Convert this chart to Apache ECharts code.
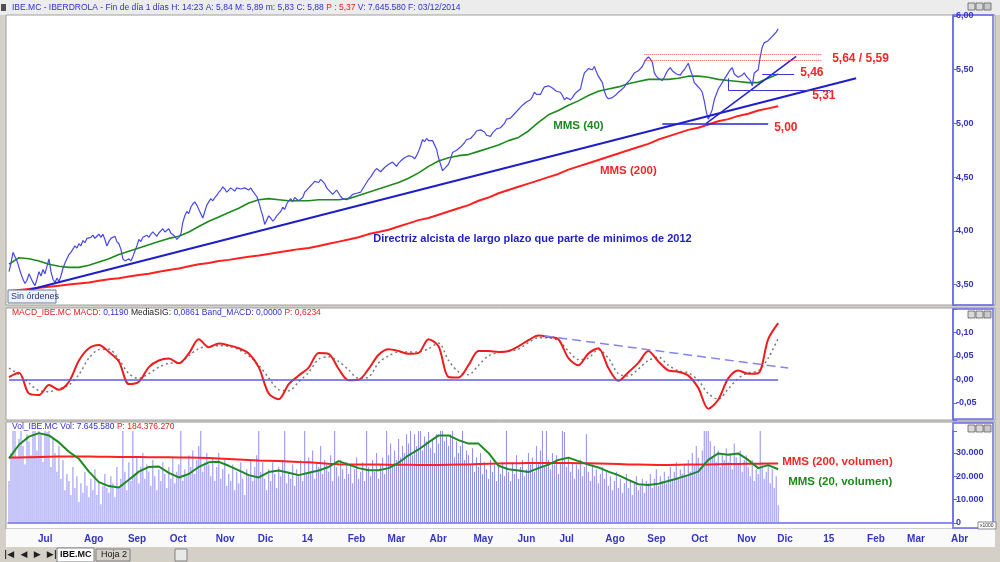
<!DOCTYPE html>
<html>
<head>
<meta charset="utf-8">
<title>IBE.MC - IBERDROLA</title>
<script src="https://cdn.jsdelivr.net/npm/echarts@6/dist/echarts.min.js"></script>
<style>
html, body { margin: 0; padding: 0; background: #d4d0c8; }
#chart { width: 1000px; height: 562px; }
</style>
</head>
<body>
<div id="chart"></div>
<script>
var FONT = '"Liberation Sans", Arial, sans-serif';
var STEP = 5; // sampled series: one value every 5 sessions

// trading sessions 12/06/2013 .. 03/04/2015 (data ends 03/12/2014)
var dates = [];
(function () {
    var d = new Date(Date.UTC(2013, 5, 12));
    var end = Date.UTC(2015, 3, 3);
    while (d.getTime() <= end) {
        var wd = d.getUTCDay();
        if (wd !== 0 && wd !== 6) dates.push(d.toISOString().slice(0, 10));
        d.setUTCDate(d.getUTCDate() + 1);
    }
})();
var monthNames = ['', 'Feb', 'Mar', 'Abr', 'May', 'Jun', 'Jul', 'Ago', 'Sep', 'Oct', 'Nov', 'Dic'];

// daily close
var close = [
    3.62, 3.70, 3.80, 3.76, 3.72, 3.66, 3.60, 3.55, 3.51, 3.54,
    3.60, 3.56, 3.52, 3.49, 3.55, 3.62, 3.58, 3.64, 3.60, 3.67,
    3.74, 3.62, 3.55, 3.52, 3.56, 3.53, 3.58, 3.65, 3.70, 3.74,
    3.78, 3.80, 3.83, 3.86, 3.84, 3.88, 3.86, 3.91, 3.89, 3.93,
    3.92, 3.94, 3.96, 3.93, 3.95, 3.97, 3.94, 3.97, 3.92, 3.86,
    3.90, 3.93, 3.94, 3.95, 3.90, 3.88, 3.83, 3.74, 3.72, 3.71,
    3.74, 3.72, 3.76, 3.81, 3.86, 3.92, 3.90, 3.94, 3.93, 3.96,
    3.94, 3.97, 3.99, 3.97, 3.95, 3.98, 4.00, 4.02, 3.99, 4.00,
    4.02, 3.98, 3.99, 3.95, 3.92, 3.94, 3.97, 4.08, 4.14, 4.18,
    4.16, 4.22, 4.25, 4.27, 4.24, 4.20, 4.16, 4.12, 4.18, 4.24,
    4.27, 4.30, 4.28, 4.31, 4.33, 4.36, 4.38, 4.41, 4.39, 4.36,
    4.38, 4.40, 4.39, 4.37, 4.40, 4.41, 4.39, 4.38, 4.40, 4.39,
    4.38, 4.40, 4.37, 4.36, 4.32, 4.27, 4.20, 4.14, 4.06, 4.10,
    4.14, 4.12, 4.09, 4.11, 4.14, 4.16, 4.18, 4.22, 4.20, 4.25,
    4.28, 4.30, 4.27, 4.31, 4.30, 4.28, 4.27, 4.31, 4.36, 4.38,
    4.40, 4.42, 4.44, 4.46, 4.47, 4.45, 4.48, 4.46, 4.44, 4.40,
    4.38, 4.36, 4.34, 4.36, 4.38, 4.37, 4.32, 4.30, 4.31, 4.29,
    4.30, 4.32, 4.34, 4.33, 4.35, 4.34, 4.36, 4.39, 4.42, 4.45,
    4.48, 4.50, 4.53, 4.56, 4.58, 4.57, 4.55, 4.56, 4.59, 4.60,
    4.62, 4.61, 4.64, 4.62, 4.60, 4.63, 4.65, 4.66, 4.68, 4.69,
    4.70, 4.71, 4.69, 4.67, 4.70, 4.74, 4.79, 4.85, 4.83, 4.86,
    4.84, 4.85, 4.84, 4.83, 4.76, 4.68, 4.62, 4.56, 4.58, 4.60,
    4.62, 4.67, 4.73, 4.72, 4.75, 4.76, 4.78, 4.79, 4.82, 4.85,
    4.84, 4.86, 4.87, 4.90, 4.93, 4.92, 4.94, 4.95, 4.92, 4.89,
    4.90, 4.88, 4.91, 4.93, 4.95, 4.94, 4.96, 4.97, 5.00, 5.04,
    5.03, 5.05, 5.06, 5.09, 5.11, 5.13, 5.15, 5.17, 5.18, 5.20,
    5.21, 5.22, 5.25, 5.29, 5.27, 5.26, 5.27, 5.31, 5.34, 5.33,
    5.35, 5.35, 5.33, 5.32, 5.30, 5.31, 5.29, 5.26, 5.22, 5.24,
    5.23, 5.22, 5.24, 5.27, 5.29, 5.30, 5.32, 5.40, 5.47, 5.49,
    5.51, 5.52, 5.50, 5.53, 5.48, 5.44, 5.41, 5.38, 5.30, 5.25,
    5.23, 5.22, 5.24, 5.25, 5.27, 5.29, 5.30, 5.32, 5.34, 5.37,
    5.39, 5.41, 5.44, 5.47, 5.46, 5.49, 5.50, 5.53, 5.57, 5.60,
    5.62, 5.60, 5.57, 5.47, 5.44, 5.42, 5.41, 5.40, 5.43, 5.47,
    5.50, 5.52, 5.49, 5.48, 5.46, 5.45, 5.45, 5.48, 5.50, 5.53,
    5.56, 5.50, 5.45, 5.38, 5.36, 5.35, 5.32, 5.29, 5.21, 5.11,
    5.04, 5.08, 5.13, 5.22, 5.27, 5.32, 5.35, 5.38, 5.41, 5.44,
    5.47, 5.50, 5.52, 5.46, 5.45, 5.43, 5.43, 5.45, 5.47, 5.44,
    5.42, 5.40, 5.35, 5.47, 5.48, 5.50, 5.62, 5.71, 5.75, 5.74,
    5.77, 5.78, 5.81, 5.83, 5.85, 5.88
];

// daily volume, in thousands (axis shows x1000)
var volK = [
    18, 30, 40, 42, 28, 36, 41, 33, 25, 38,
    35, 29, 44, 40, 31, 45, 38, 26, 42, 39,
    43, 24, 36, 30, 22, 33, 19, 27, 14, 21,
    18, 12, 24, 15, 20, 9, 17, 13, 22, 16,
    11, 19, 14, 23, 12, 18, 8, 16, 21, 15,
    13, 20, 17, 11, 24, 15, 19, 40, 22, 14,
    26, 18, 40, 21, 28, 17, 24, 30, 19, 25,
    22, 16, 27, 20, 14, 23, 18, 26, 21, 15,
    24, 19, 28, 17, 22, 25, 40, 18, 23, 20,
    29, 24, 31, 21, 27, 33, 41, 22, 26, 30,
    25, 20, 28, 18, 24, 30, 19, 23, 27, 16,
    21, 18, 25, 14, 22, 17, 26, 19, 12, 23,
    20, 27, 18, 24, 29, 40, 22, 26, 19, 14,
    23, 18, 26, 21, 15, 24, 20, 27, 40, 17,
    22, 19, 25, 16, 23, 20, 27, 18, 40, 21,
    28, 22, 31, 19, 26, 24, 33, 21, 27, 25,
    22, 29, 18, 40, 24, 20, 27, 23, 19, 26,
    21, 25, 17, 23, 28, 19, 22, 26, 18, 40,
    24, 20, 27, 22, 30, 19, 25, 28, 21, 40,
    29, 34, 25, 31, 27, 36, 28, 33, 30, 38,
    34, 41, 29, 38, 33, 40, 42, 31, 37, 35,
    39, 32, 36, 30, 38, 34, 41, 40, 35, 37,
    33, 38, 41, 28, 35, 30, 33, 40, 27, 31,
    29, 25, 32, 22, 28, 24, 30, 21, 26, 23,
    19, 27, 22, 25, 18, 24, 21, 26, 20, 40,
    22, 18, 26, 21, 29, 19, 24, 27, 20, 23,
    30, 25, 28, 22, 33, 26, 31, 41, 24, 40,
    27, 23, 30, 25, 29, 21, 26, 40, 39, 24,
    28, 22, 26, 19, 25, 23, 27, 20, 24, 38,
    22, 18, 25, 20, 23, 17, 21, 24, 19, 22,
    16, 20, 14, 18, 22, 15, 19, 13, 17, 21,
    15, 18, 12, 17, 20, 14, 16, 19, 13, 18,
    17, 21, 15, 19, 23, 16, 20, 18, 22, 17,
    20, 24, 18, 22, 26, 19, 23, 21, 25, 20,
    27, 22, 30, 25, 33, 28, 24, 31, 41, 40,
    42, 35, 28, 33, 26, 31, 24, 29, 27, 32,
    26, 30, 23, 34, 28, 25, 31, 22, 27, 29,
    24, 20, 27, 18, 23, 21, 40, 26, 19, 22,
    25, 17, 23, 15, 20, 7.6
];

// sampled every STEP sessions
var ma40 = [
    3.69, 3.75, 3.74, 3.72, 3.69, 3.67, 3.66, 3.66, 3.68, 3.71,
    3.74, 3.78, 3.81, 3.84, 3.87, 3.90, 3.93, 3.95, 3.99, 4.04,
    4.09, 4.13, 4.17, 4.21, 4.26, 4.29, 4.30, 4.29, 4.28, 4.28,
    4.28, 4.29, 4.29, 4.29, 4.30, 4.33, 4.36, 4.39, 4.42, 4.45,
    4.49, 4.54, 4.60, 4.65, 4.68, 4.70, 4.71, 4.74, 4.77, 4.80,
    4.84, 4.87, 4.93, 5.01, 5.08, 5.12, 5.17, 5.21, 5.26, 5.30,
    5.32, 5.34, 5.37, 5.39, 5.41, 5.41, 5.41, 5.42, 5.44, 5.44,
    5.43, 5.41, 5.40, 5.39, 5.38, 5.38, 5.42, 5.46
];
var ma200 = [
    3.44, 3.45, 3.46, 3.47, 3.48, 3.49, 3.50, 3.51, 3.52, 3.535,
    3.55, 3.56, 3.575, 3.59, 3.60, 3.62, 3.635, 3.65, 3.67, 3.69,
    3.70, 3.72, 3.73, 3.745, 3.76, 3.77, 3.785, 3.80, 3.815, 3.83,
    3.84, 3.86, 3.88, 3.90, 3.92, 3.94, 3.97, 3.99, 4.01, 4.04,
    4.07, 4.10, 4.12, 4.15, 4.18, 4.21, 4.24, 4.28, 4.31, 4.35,
    4.38, 4.41, 4.44, 4.47, 4.50, 4.53, 4.57, 4.60, 4.63, 4.66,
    4.69, 4.72, 4.75, 4.78, 4.81, 4.85, 4.88, 4.91, 4.94, 4.96,
    4.99, 5.02, 5.04, 5.07, 5.09, 5.12, 5.14, 5.16
];
var macd = [
    0.005, 0.014, -0.030, -0.033, -0.012, -0.022, -0.005, 0.040, 0.066, 0.073,
    0.058, 0.038, -0.010, -0.005, 0.026, 0.040, 0.044, 0.034, 0.055, 0.085,
    0.068, 0.076, 0.072, 0.066, 0.055, 0.026, -0.030, -0.042, -0.010, 0.008,
    0.025, 0.056, 0.054, 0.022, -0.002, -0.001, 0.022, 0.052, 0.064, 0.060,
    0.054, 0.056, 0.085, 0.070, 0.005, 0.004, 0.030, 0.060, 0.060, 0.058,
    0.060, 0.070, 0.083, 0.093, 0.090, 0.085, 0.045, 0.030, 0.055, 0.066,
    0.024, -0.003, 0.015, 0.035, 0.060, 0.038, 0.019, 0.016, 0.008, -0.018,
    -0.062, -0.043, 0.002, 0.019, 0.012, 0.013, 0.085, 0.119
];
var signal = [
    0.024, 0.010, -0.008, -0.024, -0.026, -0.020, -0.012, 0.010, 0.045, 0.063,
    0.064, 0.042, 0.012, 0.002, 0.012, 0.026, 0.034, 0.035, 0.050, 0.065,
    0.070, 0.071, 0.070, 0.063, 0.050, 0.030, 0.003, -0.022, -0.024, -0.005,
    0.015, 0.043, 0.048, 0.038, 0.020, 0.002, 0.005, 0.035, 0.050, 0.058,
    0.058, 0.058, 0.065, 0.077, 0.040, 0.016, 0.010, 0.030, 0.050, 0.057,
    0.060, 0.064, 0.078, 0.088, 0.088, 0.082, 0.060, 0.042, 0.045, 0.063,
    0.045, 0.012, 0.007, 0.022, 0.040, 0.047, 0.030, 0.018, 0.014, -0.002,
    -0.030, -0.042, -0.020, 0.002, 0.014, 0.018, 0.045, 0.087
];
var vma20 = [
    27.7, 33.5, 37.0, 38.5, 37.5, 34.5, 30.5, 27.5, 22.0, 17.5,
    15.8, 15.2, 18.5, 22.0, 24.0, 24.2, 21.5, 19.5, 21.0, 24.0,
    26.0, 26.2, 24.5, 22.5, 20.5, 19.5, 21.8, 22.5, 21.5, 20.5,
    21.5, 22.5, 24.0, 26.5, 25.0, 23.5, 22.6, 22.6, 23.5, 25.8,
    29.0, 31.5, 34.5, 37.5, 37.5, 35.5, 34.0, 34.0, 30.0, 24.5,
    23.0, 22.5, 21.8, 23.5, 25.0, 27.0, 28.0, 26.5, 25.0, 23.8,
    22.0, 20.5, 18.5, 16.6, 16.3, 16.8, 18.0, 19.2, 20.5, 22.0,
    27.0, 29.8, 29.2, 29.8, 27.0, 23.5, 24.8, 23.0
];
var vma200 = [
    28.0, 28.1, 28.2, 28.3, 28.4, 28.5, 28.5, 28.5, 28.5, 28.4,
    28.4, 28.3, 28.3, 28.3, 28.2, 28.2, 28.2, 28.1, 28.0, 27.9,
    27.8, 27.6, 27.4, 27.2, 27.0, 26.8, 26.7, 26.5, 26.3, 26.1,
    26.0, 25.7, 25.4, 25.2, 25.1, 25.0, 25.0, 25.0, 24.9, 24.9,
    24.9, 24.8, 24.8, 24.8, 24.9, 25.0, 25.1, 25.3, 25.4, 25.5,
    25.6, 25.6, 25.7, 25.7, 25.7, 25.7, 25.7, 25.6, 25.6, 25.5,
    25.4, 25.3, 25.1, 25.0, 24.9, 24.8, 24.8, 24.9, 25.0, 25.1,
    25.1, 25.2, 25.3, 25.3, 25.4, 25.4, 25.5, 25.5
];

function sampled(arr) {
    return arr.map(function (v, k) { return [dates[k * STEP], v]; });
}
function isMonthStart(i) {
    return i > 0 && dates[i].slice(5, 7) !== dates[i - 1].slice(5, 7);
}
function monthLabel(v) {
    var m = +v.slice(5, 7);
    return m === 1 ? v.slice(2, 4) : monthNames[m - 1];
}
function fmtStep(step, dec, fn) {
    return function (v) {
        var r = v / step;
        if (Math.abs(r - Math.round(r)) > 1e-6) return '';
        return fn ? fn(v) : v.toFixed(dec).replace('.', ',');
    };
}
function seg(i0, v0, i1, v1, style) {
    return [{coord: [dates[i0], v0], lineStyle: style}, {coord: [dates[i1], v1]}];
}
function note(i, v, text, color, pos, size) {
    return {
        coord: [dates[i], v], symbol: 'rect', symbolSize: 0,
        label: {show: true, formatter: text, position: pos || 'inside', distance: 0,
            color: color, fontWeight: 'bold', fontSize: size || 11.5, fontFamily: FONT}
    };
}

var AX = '#6a6ae8';
var AXTXT = '#3434c4';
function yAxis(grid, min, max, fmt) {
    return {
        type: 'value', gridIndex: grid, position: 'right', min: min, max: max, splitNumber: 5,
        axisLine: {show: true, lineStyle: {color: AX, width: 1.5}},
        axisTick: {show: true, length: 4, lineStyle: {color: AX}},
        splitLine: {show: false},
        axisLabel: {color: AXTXT, fontSize: 9, fontWeight: 'bold', margin: 3, fontFamily: FONT, formatter: fmt}
    };
}
function xAxis(grid, show) {
    var a = {type: 'category', gridIndex: grid, data: dates, boundaryGap: true, show: show};
    if (show) {
        a.offset = 7;
        a.axisLine = {lineStyle: {color: AX, width: 1.5}};
        a.axisTick = {alignWithLabel: true, length: 6, interval: isMonthStart, lineStyle: {color: AX, width: 1.5}};
        a.axisLabel = {interval: isMonthStart, formatter: monthLabel, align: 'left', padding: [0, 0, 0, 3],
            color: AXTXT, fontWeight: 'bold', fontSize: 10, margin: 4, fontFamily: FONT};
    }
    return a;
}

var chart = echarts.init(document.getElementById('chart'));

var blue2 = {color: '#1e1ec8', width: 2, type: 'solid'};
var blue1 = {color: '#2424d0', width: 1.5, type: 'solid'};
var redDot = {color: '#ff4040', width: 1, type: 'dotted'};

var panels = [
    {type: 'rect', shape: {x: 0, y: 0, width: 1000, height: 15}, style: {fill: '#ececec'}},
    {type: 'rect', shape: {x: 6, y: 15, width: 989, height: 290}, style: {fill: '#fff', stroke: '#a0a0a0'}},
    {type: 'rect', shape: {x: 6, y: 308, width: 989, height: 112}, style: {fill: '#fff', stroke: '#a0a0a0'}},
    {type: 'rect', shape: {x: 6, y: 422, width: 989, height: 107}, style: {fill: '#fff', stroke: '#a0a0a0'}},
    {type: 'rect', shape: {x: 6, y: 529, width: 989, height: 18}, style: {fill: '#fafafa'}},
    {type: 'rect', shape: {x: 953, y: 15, width: 40, height: 290}, style: {fill: 'none', stroke: AX, lineWidth: 1.5}},
    {type: 'rect', shape: {x: 953, y: 309, width: 40, height: 110}, style: {fill: 'none', stroke: AX, lineWidth: 1.5}},
    {type: 'rect', shape: {x: 953, y: 423, width: 40, height: 105}, style: {fill: 'none', stroke: AX, lineWidth: 1.5}}
].map(function (g) { g.z = -10; g.silent = true; return g; });

var iconYs = [3, 311, 425];
var icons = [];
iconYs.forEach(function (y) {
    [968, 976, 984].forEach(function (x, k) {
        icons.push({type: 'rect', z: 50, silent: true, shape: {x: x, y: y, width: 7, height: 7},
            style: {fill: k === 2 ? '#c8c8c8' : '#d8d8d8', stroke: '#606060', lineWidth: 0.8}});
    });
});

var texts = [
    {type: 'rect', z: 50, shape: {x: 1, y: 4, width: 5, height: 7}, style: {fill: '#505050'}},
    {type: 'text', z: 50, x: 12, y: 8, style: {
        text: '{b|IBE.MC - IBERDROLA - Fin de día 1 días H: 14:23 A: 5,84 M: 5,89 m: 5,83 C: 5,88} {r|P : 5,37} {b|V: 7.645.580 F: 03/12/2014}',
        font: '8.5px ' + FONT, textVerticalAlign: 'middle',
        rich: {b: {fill: '#3030c8', fontSize: 8.5}, r: {fill: '#e02020', fontSize: 8.5}}}},
    {type: 'text', z: 50, x: 12, y: 313, style: {
        text: '{r|MACD_IBE.MC MACD:} {b|0,1190} {k|MediaSIG:} {b|0,0861} {b|Band_MACD: 0,0000} {r|P: 0,6234}',
        font: '8.5px ' + FONT, textVerticalAlign: 'middle',
        rich: {b: {fill: '#3030c8', fontSize: 8.5}, r: {fill: '#e02020', fontSize: 8.5}, k: {fill: '#202020', fontSize: 8.5}}}},
    {type: 'text', z: 50, x: 12, y: 427, style: {
        text: '{b|Vol_IBE.MC Vol: 7.645.580} {r|P: 184.376.270}',
        font: '8.5px ' + FONT, textVerticalAlign: 'middle',
        rich: {b: {fill: '#3030c8', fontSize: 8.5}, r: {fill: '#e02020', fontSize: 8.5}}}},
    {type: 'rect', z: 50, shape: {x: 8, y: 290, width: 48, height: 13}, style: {fill: '#eef2fa', stroke: '#6a7898'}},
    {type: 'text', z: 51, x: 11, y: 297, style: {text: 'Sin órdenes', font: '9px ' + FONT, fill: '#283c78', textVerticalAlign: 'middle'}},
    {type: 'rect', z: 50, shape: {x: 978, y: 522, width: 18, height: 7}, style: {fill: '#fff', stroke: '#707070', lineWidth: 0.8}},
    {type: 'text', z: 51, x: 980, y: 526, style: {text: 'x1000', font: '5px ' + FONT, fill: '#303030', textVerticalAlign: 'middle'}},
    {type: 'text', z: 50, x: 4, y: 555, style: {text: '|◀  ◀  ▶  ▶|', font: 'bold 9px DejaVu Sans', fill: '#202020', textVerticalAlign: 'middle'}},
    {type: 'rect', z: 49, shape: {x: 57, y: 548, width: 37, height: 14}, style: {fill: '#fff', stroke: '#808080'}},
    {type: 'text', z: 50, x: 60, y: 555, style: {text: 'IBE.MC', font: 'bold 9px ' + FONT, fill: '#101010', textVerticalAlign: 'middle'}},
    {type: 'text', z: 50, x: 101, y: 555, style: {text: 'Hoja 2', font: '9px ' + FONT, fill: '#101010', textVerticalAlign: 'middle'}},
    {type: 'rect', z: 49, shape: {x: 96, y: 549, width: 34, height: 12}, style: {fill: 'none', stroke: '#808080'}},
    {type: 'rect', z: 49, shape: {x: 175, y: 549, width: 12, height: 12}, style: {fill: '#e8e8e8', stroke: '#808080'}}
];

chart.setOption({
    animation: false,
    backgroundColor: '#d4d0c8',
    textStyle: {fontFamily: FONT},
    graphic: panels.concat(icons, texts),
    grid: [
        {left: 8, top: 16, width: 945, height: 289},
        {left: 8, top: 309, width: 945, height: 111},
        {left: 8, top: 431, width: 945, height: 92}
    ],
    xAxis: [xAxis(0, false), xAxis(1, false), xAxis(2, true)],
    yAxis: [
        yAxis(0, 3.31, 6.0, fmtStep(0.5, 2)),
        yAxis(1, -0.086, 0.149, fmtStep(0.05, 2)),
        yAxis(2, 0, 39.4, fmtStep(10, 0, function (v) { return v === 0 ? '0' : v + '.000'; }))
    ],
    series: [
        {
            name: 'MMS (200)', type: 'line', xAxisIndex: 0, yAxisIndex: 0, data: sampled(ma200),
            symbol: 'none', lineStyle: {color: '#ff2020', width: 2}, z: 3
        },
        {
            name: 'MMS (40)', type: 'line', xAxisIndex: 0, yAxisIndex: 0, data: sampled(ma40),
            symbol: 'none', lineStyle: {color: '#1d8a1d', width: 1.6}, z: 3
        },
        {
            name: 'IBE.MC', type: 'line', xAxisIndex: 0, yAxisIndex: 0, data: close,
            symbol: 'none', lineStyle: {color: '#4848e4', width: 1.2}, z: 4,
            markLine: {
                symbol: 'none', silent: true, label: {show: false},
                data: [
                    seg(0, 3.403, 424, 5.42, blue2),
                    seg(349, 5.00, 394, 5.625, blue1),
                    seg(327, 5.00, 380, 5.00, blue1),
                    seg(377, 5.46, 393, 5.46, {color: '#3a3ad8', width: 1, type: 'solid'}),
                    seg(360, 5.42, 360, 5.31, {color: '#3a3ad8', width: 1, type: 'solid'}),
                    seg(360, 5.31, 411, 5.31, {color: '#3a3ad8', width: 1, type: 'solid'}),
                    seg(318, 5.64, 407, 5.64, redDot),
                    seg(318, 5.59, 407, 5.59, redDot)
                ]
            },
            markPoint: {
                silent: true,
                data: [
                    note(412, 5.599, '5,64 / 5,59', '#f02828', 'right', 12),
                    note(396, 5.468, '5,46', '#f02828', 'right', 12),
                    note(402, 5.254, '5,31', '#f02828', 'right', 12),
                    note(383, 4.965, '5,00', '#f02828', 'right', 12),
                    note(285, 4.974, 'MMS (40)', '#1d8a1d'),
                    note(310, 4.555, 'MMS (200)', '#f02828'),
                    note(262, 3.922, 'Directriz alcista de largo plazo que parte de minimos de 2012', '#1e1ec8', 'inside', 11)
                ]
            }
        },
        {
            name: 'MediaSIG', type: 'line', xAxisIndex: 1, yAxisIndex: 1, data: sampled(signal),
            symbol: 'none', smooth: 0.3, lineStyle: {color: '#7a7a7a', width: 1.5, type: [2, 3]}, z: 3
        },
        {
            name: 'MACD', type: 'line', xAxisIndex: 1, yAxisIndex: 1, data: sampled(macd),
            symbol: 'none', smooth: 0.3, lineStyle: {color: '#ee1c1c', width: 2}, z: 4,
            markLine: {
                symbol: 'none', silent: true, label: {show: false},
                data: [
                    seg(0, 0, 385, 0, {color: '#5c5ce6', width: 1.5, type: 'solid'}),
                    seg(268, 0.092, 390, 0.024, {color: '#8484ee', width: 1.5, type: [9, 5]})
                ]
            }
        },
        {
            name: 'Vol', type: 'bar', xAxisIndex: 2, yAxisIndex: 2, data: volK,
            barWidth: 1, itemStyle: {color: '#8e8ef2'}, z: 2,
            markPoint: {
                silent: true,
                data: [
                    note(387, 26.1, 'MMS (200, volumen)', '#f02828', 'right'),
                    note(390, 17.6, 'MMS (20, volumen)', '#1d8a1d', 'right')
                ]
            }
        },
        {
            name: 'MMS (200, volumen)', type: 'line', xAxisIndex: 2, yAxisIndex: 2, data: sampled(vma200),
            symbol: 'none', lineStyle: {color: '#ff2020', width: 2}, z: 4
        },
        {
            name: 'MMS (20, volumen)', type: 'line', xAxisIndex: 2, yAxisIndex: 2, data: sampled(vma20),
            symbol: 'none', lineStyle: {color: '#1d8a1d', width: 2}, z: 4
        }
    ]
});
</script>
</body>
</html>
